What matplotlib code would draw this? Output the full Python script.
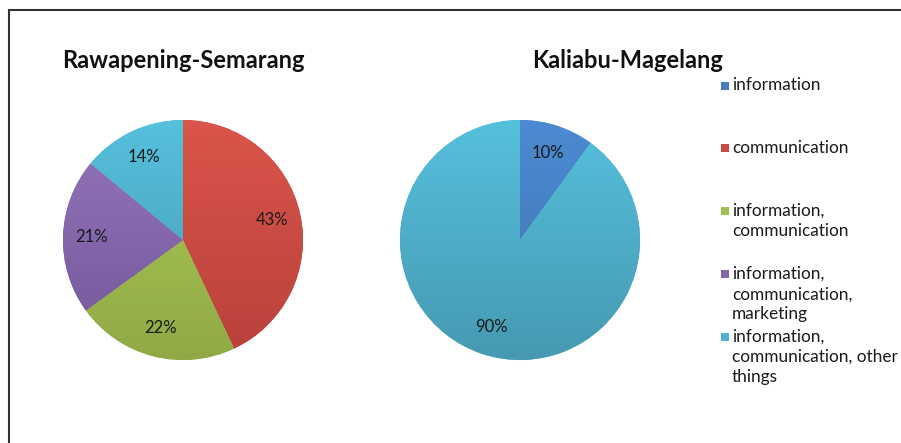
import matplotlib
matplotlib.use("Agg")
import matplotlib.pyplot as plt
import numpy as np
from matplotlib.patches import Rectangle
from matplotlib.colors import LinearSegmentedColormap

categories = ["information", "communication", "information,\ncommunication",
              "information,\ncommunication,\nmarketing",
              "information,\ncommunication, other\nthings"]
colors = ["#4A7EBB", "#CB4B43", "#9DC04E", "#8466A8", "#4DB3D0"]
top_colors = ["#4C8BD2", "#DA554B", "#ADCD57", "#9575BA", "#56C0DD"]
bottom_colors = ["#3E72AE", "#B8413A", "#8FA946", "#72579A", "#4699B1"]
titles = ["Rawapening-Semarang", "Kaliabu-Magelang"]
rawapening = [0, 43, 22, 21, 14]
kaliabu = [10, 0, 0, 0, 90]

W, H = 901, 443
fig = plt.figure(figsize=(W / 100, H / 100), dpi=100)
FONT = "Lato"

def px_axes(cx, cy, r):
    return fig.add_axes([(cx - r) / W, (H - cy - r) / H, 2 * r / W, 2 * r / H])

grad = np.linspace(0, 1, 256).reshape(-1, 1)

def draw_pie(ax, values):
    idx = [i for i, v in enumerate(values) if v > 0]
    vals = [values[i] for i in idx]
    cols = [colors[i] for i in idx]
    wedges, texts, autotexts = ax.pie(
        vals, colors=cols, startangle=90, counterclock=False,
        autopct="%.0f%%", pctdistance=0.76, radius=1,
        wedgeprops=dict(linewidth=0),
        textprops=dict(fontsize=12, color="#1a1a1a", family=FONT))
    for w, i in zip(wedges, idx):
        cmap = LinearSegmentedColormap.from_list("g", [top_colors[i], bottom_colors[i]])
        im = ax.imshow(grad, cmap=cmap, extent=(-1, 1, -1, 1), origin="upper",
                       aspect="auto", zorder=w.get_zorder() + 0.1)
        im.set_clip_path(w)
    for t in autotexts:
        t.set_zorder(10)
    ax.set_xlim(-1, 1)
    ax.set_ylim(-1, 1)
    ax.set_aspect("equal")
    ax.axis("off")

ax1 = px_axes(183, 240, 120)
draw_pie(ax1, rawapening)
ax2 = px_axes(520, 240, 120)
draw_pie(ax2, kaliabu)

fig.text(183 / W, 1 - 60 / H, titles[0], ha="center", va="center",
         fontsize=17, fontweight="bold", family=FONT, color="#111111")
fig.text(628 / W, 1 - 60 / H, titles[1], ha="center", va="center",
         fontsize=17, fontweight="bold", family=FONT, color="#111111")

# legend
for i, (lab, col) in enumerate(zip(categories, colors)):
    ytop = 77.5 + i * 62.8
    fig.patches.append(Rectangle((721 / W, 1 - (ytop + 12) / H), 8 / W, 8 / H,
                                 transform=fig.transFigure, facecolor=col,
                                 edgecolor="none"))
    fig.text(732 / W, 1 - ytop / H, lab, ha="left", va="top", fontsize=12.4,
             family=FONT, color="#1a1a1a", linespacing=1.33)

# frame
fig.patches.append(Rectangle((8.5 / W, -0.1), 1.2, 1 - 10.5 / H + 0.1,
                             transform=fig.transFigure, facecolor="none",
                             edgecolor="#333333", linewidth=1.5))

fig.savefig("out.png", dpi=100, facecolor="white")
